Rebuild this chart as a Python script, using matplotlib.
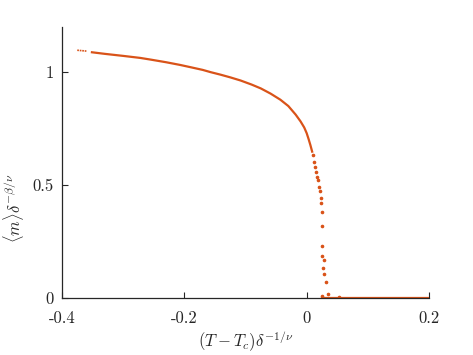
import matplotlib
matplotlib.use("Agg")
import matplotlib.pyplot as plt

plt.rcParams["mathtext.fontset"] = "cm"
plt.rcParams["font.family"] = "serif"
plt.rcParams["font.serif"] = ["cmr10", "DejaVu Serif"]
plt.rcParams["axes.unicode_minus"] = False

# main branch (continuous-looking dense trail)
head_x = [-0.375, -0.367, -0.359]
head_y = [1.097, 1.095, 1.093]

curve_x = [-0.351, -0.330, -0.300, -0.272, -0.256, -0.230, -0.207, -0.190,
           -0.170, -0.157, -0.141, -0.125, -0.108, -0.090, -0.075, -0.059,
           -0.043, -0.030, -0.018, -0.010, -0.004, 0.000, 0.003, 0.006,
           0.009]
curve_y = [1.088, 1.081, 1.072, 1.063, 1.056, 1.044, 1.032, 1.022,
           1.010, 1.000, 0.989, 0.977, 0.963, 0.945, 0.928, 0.905,
           0.878, 0.850, 0.812, 0.782, 0.755, 0.730, 0.705, 0.678,
           0.648]

# scattered points near the transition
tail_x = [0.0098, 0.0115, 0.0131, 0.0148, 0.0164, 0.0180, 0.0197, 0.0213,
          0.0230, 0.0230, 0.0246, 0.0246, 0.0246, 0.0246, 0.0279, 0.0262,
          0.0279, 0.0311, 0.0344, 0.0246, 0.0525]
tail_y = [0.633, 0.602, 0.580, 0.558, 0.535, 0.522, 0.491, 0.473,
          0.442, 0.420, 0.381, 0.319, 0.230, 0.186, 0.168, 0.133,
          0.106, 0.071, 0.018, 0.009, 0.004]

# flat zero branch
zero_x = [0.025, 0.200]
zero_y = [0.002, 0.002]

color = "#D95319"

fig = plt.figure(figsize=(4.73, 3.55), dpi=100)
ax = fig.add_axes([0.131, 0.1606, 0.776, 0.7634])

ax.plot(head_x, head_y, color=color, lw=1.2, ls=(0, (1, 0.5)))
ax.plot(curve_x, curve_y, color=color, lw=1.6, solid_joinstyle="round")
ax.plot(tail_x, tail_y, ls="none", marker="o", ms=1.6, mec=color, mfc=color)
ax.plot(zero_x, zero_y, color=color, lw=1.6)

ax.set_xlim(-0.4, 0.2)
ax.set_ylim(0, 1.2)
ax.set_xticks([-0.4, -0.2, 0, 0.2])
ax.set_xticklabels(["-0.4", "-0.2", "0", "0.2"])
ax.set_yticks([0, 0.5, 1])
ax.set_yticklabels(["0", "0.5", "1"])
ax.tick_params(direction="in", length=4, width=0.8, labelsize=12,
               colors="#262626")
ax.tick_params(axis="x", pad=9)
ax.tick_params(axis="y", pad=6)

for side in ("top", "right"):
    ax.spines[side].set_visible(False)
for side in ("left", "bottom"):
    ax.spines[side].set_linewidth(0.9)
    ax.spines[side].set_color("#262626")

ax.set_xlabel(r"$(T-T_c)\delta^{-1/\nu}$", fontsize=12, color="#262626")
ax.set_ylabel(r"$\langle m\rangle\delta^{-\beta/\nu}$", fontsize=12,
              color="#262626")
ax.xaxis.set_label_coords(0.5, -0.118)
ax.yaxis.set_label_coords(-0.097, 0.33)

fig.savefig("out.png", dpi=100)
